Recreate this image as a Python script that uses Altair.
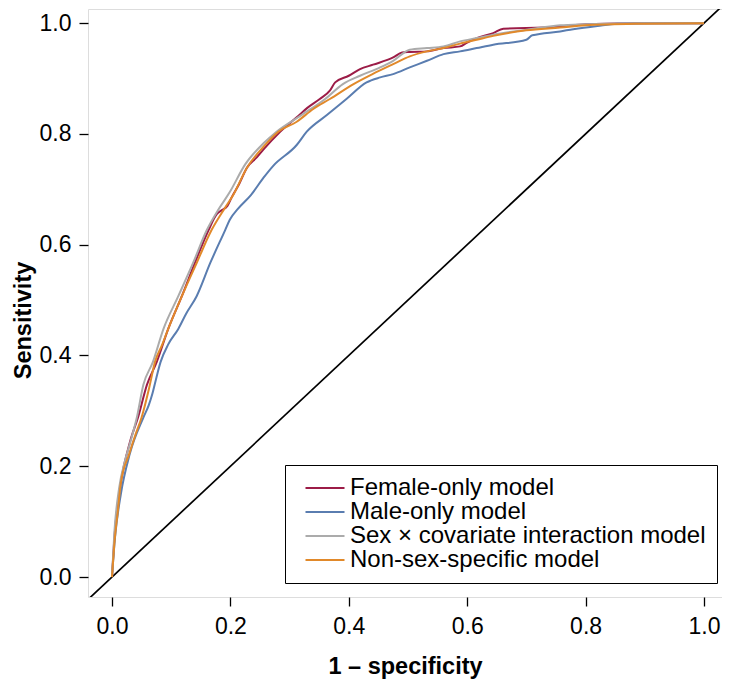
import altair as alt
import pandas as pd

# ---- data ----
series_names = ["Female-only model", "Male-only model",
                "Sex \u00d7 covariate interaction model", "Non-sex-specific model"]
series_colors = ["#9c1c47", "#5a7db0", "#ababab", "#e1892a"]

female_fpr = [0, 0.004, 0.012, 0.02, 0.025, 0.032, 0.044, 0.059, 0.0755, 0.095, 0.118, 0.14, 0.163,
              0.177, 0.185, 0.195, 0.202, 0.215, 0.228, 0.245, 0.256, 0.284, 0.312, 0.33, 0.351,
              0.368, 0.377, 0.4, 0.419, 0.441, 0.475, 0.49, 0.503, 0.532, 0.56, 0.588, 0.6, 0.616,
              0.644, 0.661, 0.7, 0.757, 0.8, 0.9, 1.0]
female_tpr = [0, 0.07, 0.15, 0.2, 0.222, 0.25, 0.288, 0.347, 0.388, 0.448, 0.507, 0.567, 0.626,
              0.655, 0.662, 0.67, 0.685, 0.71, 0.739, 0.758, 0.772, 0.804, 0.83, 0.847, 0.863,
              0.878, 0.893, 0.905, 0.917, 0.925, 0.938, 0.947, 0.948, 0.949, 0.955, 0.958, 0.965, 0.973,
              0.982, 0.99, 0.991, 0.994, 0.998, 1.0, 1.0]

male_fpr = [0, 0.005, 0.015, 0.03, 0.053, 0.062, 0.068, 0.075, 0.082, 0.095, 0.112, 0.125, 0.143,
            0.166, 0.191, 0.199, 0.213, 0.235, 0.256, 0.272, 0.312, 0.329, 0.363, 0.396, 0.43,
            0.453, 0.475, 0.503, 0.532, 0.56, 0.588, 0.616, 0.644, 0.7, 0.71, 0.757, 0.779, 0.82,
            0.853, 0.9, 1.0]
male_tpr = [0, 0.07, 0.15, 0.222, 0.288, 0.31, 0.33, 0.36, 0.388, 0.42, 0.448, 0.475, 0.507,
            0.567, 0.626, 0.645, 0.665, 0.69, 0.721, 0.742, 0.78, 0.804, 0.834, 0.863, 0.893,
            0.902, 0.908, 0.92, 0.932, 0.944, 0.949, 0.955, 0.961, 0.970, 0.978, 0.985, 0.989, 0.995,
            0.999, 1.0, 1.0]

inter_fpr = [0, 0.004, 0.012, 0.022, 0.03, 0.042, 0.053, 0.069, 0.087, 0.112, 0.137, 0.16, 0.179,
             0.199, 0.225, 0.256, 0.278, 0.32, 0.36, 0.39, 0.419, 0.453, 0.475, 0.503, 0.532,
             0.56, 0.588, 0.616, 0.644, 0.7, 0.757, 0.8, 0.9, 1.0]
inter_tpr = [0, 0.08, 0.16, 0.21, 0.24, 0.288, 0.347, 0.388, 0.448, 0.507, 0.567, 0.626, 0.662,
             0.695, 0.745, 0.783, 0.804, 0.834, 0.863, 0.89, 0.905, 0.92, 0.932, 0.952, 0.955,
             0.958, 0.967, 0.973, 0.979, 0.988, 0.996, 0.998, 1.0, 1.0]

nonsex_fpr = [0, 0.004, 0.01, 0.015, 0.029, 0.04, 0.05, 0.0625, 0.0726, 0.085, 0.095, 0.118, 0.143,
              0.168, 0.19, 0.205, 0.228, 0.256, 0.281, 0.312, 0.34, 0.368, 0.408, 0.44, 0.475,
              0.503, 0.532, 0.56, 0.588, 0.616, 0.644, 0.7, 0.757, 0.8, 0.9, 1.0]
nonsex_tpr = [0, 0.06, 0.12, 0.17, 0.222, 0.258, 0.288, 0.34, 0.388, 0.42, 0.448, 0.507, 0.567,
              0.626, 0.665, 0.69, 0.739, 0.777, 0.804, 0.822, 0.845, 0.863, 0.89, 0.908, 0.926,
              0.94, 0.949, 0.955, 0.963, 0.970, 0.977, 0.987, 0.992, 0.996, 0.999, 1.0]

ref_line = [-0.05, 1.05]
x_ticks = [0.0, 0.2, 0.4, 0.6, 0.8, 1.0]
y_ticks = [0.0, 0.2, 0.4, 0.6, 0.8, 1.0]

rows = []
for name, fx, fy in zip(series_names,
                        [female_fpr, male_fpr, inter_fpr, nonsex_fpr],
                        [female_tpr, male_tpr, inter_tpr, nonsex_tpr]):
    for i, (a, b) in enumerate(zip(fx, fy)):
        rows.append({"model": name, "fpr": a, "tpr": b, "idx": i})
df = pd.DataFrame(rows)
diag = pd.DataFrame({"fpr": ref_line, "tpr": ref_line})

FONT = "Liberation Sans"
xdom = [-0.0405, 1.0304]
ydom = [-0.036, 1.0255]

xscale = alt.Scale(domain=xdom, nice=False, zero=False)
yscale = alt.Scale(domain=ydom, nice=False, zero=False)

x_axis = alt.Axis(values=x_ticks, format=".1f", title="1 \u2013 specificity",
                  domain=False, grid=False, tickSize=9, tickWidth=1.3, tickColor="black",
                  labelFontSize=23, labelColor="black", labelPadding=9, labelFont=FONT,
                  titleFontSize=23.5, titleFont=FONT, titleFontWeight="bold", titleColor="black",
                  titlePadding=16)
y_axis = alt.Axis(values=y_ticks, format=".1f", title="Sensitivity",
                  domain=False, grid=False, tickSize=9, tickWidth=1.3, tickColor="black",
                  labelFontSize=23, labelColor="black", labelPadding=8, labelFont=FONT,
                  titleFontSize=23.5, titleFont=FONT, titleFontWeight="bold", titleColor="black",
                  titlePadding=4, titleY=311)

diag_layer = alt.Chart(diag).mark_line(color="black", strokeWidth=1.7, clip=True).encode(
    x=alt.X("fpr:Q", scale=xscale, axis=x_axis),
    y=alt.Y("tpr:Q", scale=yscale, axis=y_axis),
)

curves = alt.Chart(df).mark_line(strokeWidth=2, clip=True, interpolate="monotone").encode(
    x=alt.X("fpr:Q", scale=xscale),
    y=alt.Y("tpr:Q", scale=yscale),
    order="idx:Q",
    color=alt.Color("model:N",
                    scale=alt.Scale(domain=series_names, range=series_colors),
                    sort=series_names,
                    legend=alt.Legend(title=None, orient="none", legendX=197, legendY=456,
                                      strokeColor="black", padding=11,
                                      symbolType="M-3,0H3", symbolSize=169,
                                      symbolStrokeWidth=2, symbolOffset=17,
                                      labelFontSize=24, labelFont=FONT, labelColor="black",
                                      labelLimit=0, labelOffset=13, rowPadding=0)),
)

chart = alt.layer(diag_layer, curves).properties(
    width=634, height=588,
    autosize=alt.AutoSizeParams(type="none"),
    padding={"left": 80, "top": 1, "right": 0, "bottom": 82},
).configure_view(stroke="black", strokeWidth=1.6).configure(background="white")

chart.save("out.html", embed_options={"renderer": "svg", "actions": False})
